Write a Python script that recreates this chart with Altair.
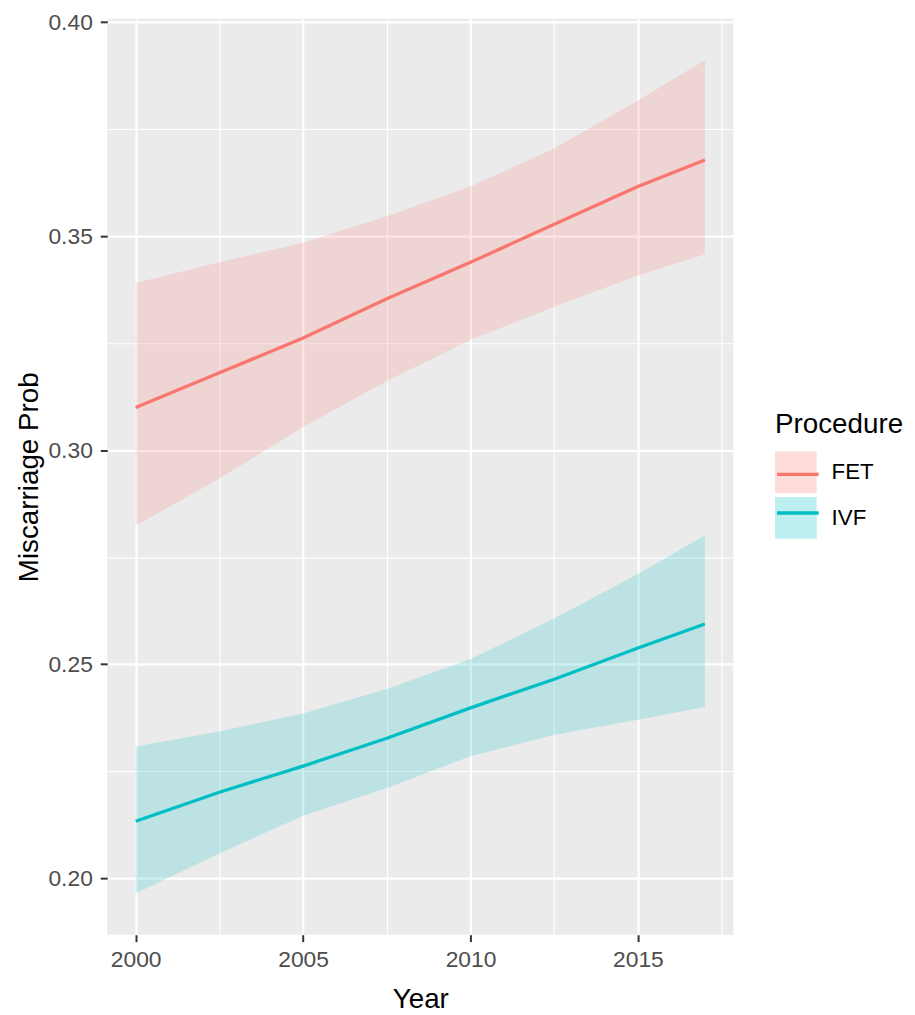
import altair as alt
import pandas as pd

years = [2000, 2002.5, 2005, 2007.5, 2010, 2012.5, 2015, 2017]
procedures = ["FET", "IVF"]
fet_fit = [0.3100, 0.3181, 0.3262, 0.3354, 0.3439, 0.3528, 0.3616, 0.3678]
fet_lo = [0.2824, 0.2934, 0.3054, 0.3162, 0.3258, 0.3335, 0.3408, 0.3458]
fet_hi = [0.3391, 0.3439, 0.3485, 0.3547, 0.3616, 0.3705, 0.3817, 0.3911]
ivf_fit = [0.2133, 0.2201, 0.2262, 0.2327, 0.2398, 0.2465, 0.2538, 0.2594]
ivf_lo = [0.1965, 0.2058, 0.2146, 0.2211, 0.2285, 0.2335, 0.2370, 0.2400]
ivf_hi = [0.2308, 0.2343, 0.2385, 0.2442, 0.2512, 0.2607, 0.2711, 0.2801]

x_ticks = [2000, 2002.5, 2005, 2007.5, 2010, 2012.5, 2015, 2017.5]
y_ticks = [0.200, 0.225, 0.250, 0.275, 0.300, 0.325, 0.350, 0.375, 0.400]

rows = []
for proc, fit, lo, hi in [("FET", fet_fit, fet_lo, fet_hi), ("IVF", ivf_fit, ivf_lo, ivf_hi)]:
    for yr, f, l, h in zip(years, fit, lo, hi):
        rows.append({"Year": yr, "Procedure": proc, "Proc": proc, "fit": f, "lo": l, "hi": h})
df = pd.DataFrame(rows)

colors = ["#F8766D", "#00BFC4"]
FONT = "Liberation Sans"

x_major = "datum.value % 5 === 0"
y_major = "abs(datum.value * 20 - round(datum.value * 20)) < 0.001"

x_scale = alt.Scale(domain=[1999.15, 2017.85], nice=False, zero=False)
y_scale = alt.Scale(domain=[0.1868, 0.4008], nice=False, zero=False)

x_axis = alt.Axis(
    title="Year", values=x_ticks,
    labelExpr="datum.value % 5 === 0 ? datum.label : ''",
    format="d",
    gridColor="white",
    gridWidth={"condition": {"test": x_major, "value": 2.2}, "value": 1.1},
    tickOpacity={"condition": {"test": x_major, "value": 1}, "value": 0},
    domain=False, tickColor="#333333", tickSize=7, tickWidth=2,
    labelColor="#4D4D4D", labelFontSize=23, labelFont=FONT, labelPadding=7,
    titleFont=FONT, titleFontSize=28, titleFontWeight="normal", titleColor="black",
    titlePadding=14, labelFlush=False, labelOverlap=False,
)
y_axis = alt.Axis(
    title="Miscarriage Prob", values=y_ticks,
    labelExpr=f"({y_major}) ? format(datum.value, '.2f') : ''",
    gridColor="white",
    gridWidth={"condition": {"test": y_major, "value": 2.2}, "value": 1.1},
    tickOpacity={"condition": {"test": y_major, "value": 1}, "value": 0},
    domain=False, tickColor="#333333", tickSize=7, tickWidth=2,
    labelColor="#4D4D4D", labelFontSize=23, labelFont=FONT, labelPadding=8,
    titleFont=FONT, titleFontSize=28, titleFontWeight="normal", titleColor="black",
    titlePadding=4, labelFlush=False, labelOverlap=False,
)

base = alt.Chart(df)

ribbon = base.mark_area(opacity=0.2).encode(
    x=alt.X("Year:Q", scale=x_scale, axis=x_axis),
    y=alt.Y("lo:Q", scale=y_scale, axis=y_axis),
    y2="hi:Q",
    fill=alt.Fill(
        "Procedure:N",
        scale=alt.Scale(domain=procedures, range=colors),
        legend=alt.Legend(
            title="Procedure", orient="none", legendX=673, legendY=395,
            symbolType="square", symbolSize=1764, symbolOpacity=0.26, symbolStrokeWidth=0,
            titleFont=FONT, titleFontSize=28, titleFontWeight="normal", titleColor="black",
            titlePadding=13, labelFont=FONT, labelFontSize=22.5, labelColor="black",
            labelOffset=15, rowPadding=4, padding=0, zindex=0,
        ),
    ),
    detail="Procedure:N",
)

line = base.mark_line(strokeWidth=3.3).encode(
    x=alt.X("Year:Q", scale=x_scale),
    y=alt.Y("fit:Q", scale=y_scale),
    stroke=alt.Stroke(
        "Proc:N",
        scale=alt.Scale(range=colors),
        legend=alt.Legend(
            title="Procedure", orient="none", legendX=673, legendY=395,
            symbolType="stroke", symbolSize=1764, symbolStrokeWidth=3.3,
            titleFont=FONT, titleFontSize=28, titleFontWeight="normal", titleOpacity=0,
            titlePadding=13, labelFont=FONT, labelFontSize=22.5, labelExpr="''",
            labelOffset=15, rowPadding=4, padding=0, zindex=1,
        ),
    ),
)

chart = alt.layer(ribbon, line).properties(
    width=631, height=923,
    padding={"left": 100, "top": 7, "right": 175, "bottom": 77},
    autosize="none",
    background="white",
).configure_view(fill="#EBEBEB", strokeWidth=0)

chart.save("out.html", embed_options={"renderer": "svg", "actions": False})
